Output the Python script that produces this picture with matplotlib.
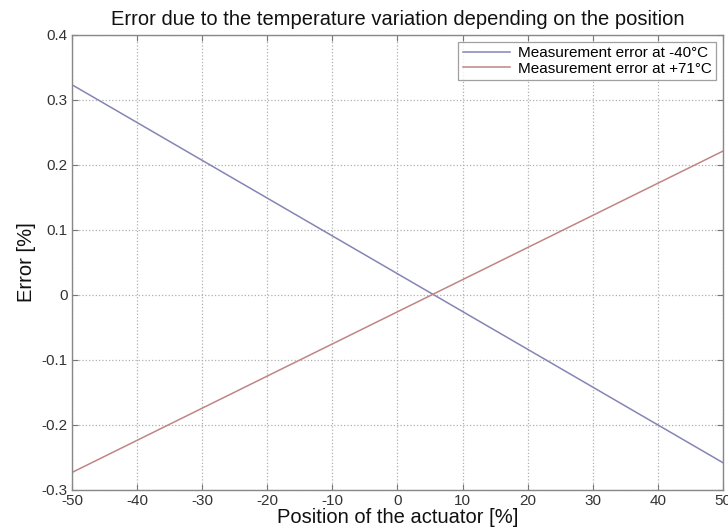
import matplotlib
matplotlib.use("Agg")
import matplotlib.pyplot as plt

plt.rcParams["font.family"] = ["Liberation Sans", "DejaVu Sans"]
plt.rcParams["axes.unicode_minus"] = False

# values
position = [-50, 50]
err_minus40 = [0.323, -0.258]
err_plus71 = [-0.273, 0.221]
xticks = list(range(-50, 51, 10))
yticks = [-0.3, -0.2, -0.1, 0, 0.1, 0.2, 0.3, 0.4]
ytick_labels = ["-0.3", "-0.2", "-0.1", "0", "0.1", "0.2", "0.3", "0.4"]

fig = plt.figure(figsize=(7.28, 5.30), dpi=100)
ax = fig.add_axes([0.099, 0.0755, 0.894, 0.859])

ax.plot(position, err_minus40, color="#8585b5", lw=1.1, label="Measurement error at -40°C")
ax.plot(position, err_plus71, color="#c08585", lw=1.1, label="Measurement error at +71°C")

ax.set_xlim(-50, 50)
ax.set_ylim(-0.3, 0.4)
ax.set_xticks(xticks)
ax.set_yticks(yticks)
ax.set_yticklabels(ytick_labels)
ax.grid(True, linestyle=":", color="#b0b0b0", lw=0.9)
ax.tick_params(direction="in", top=True, right=True, length=4, color="#777777",
               labelsize=11, labelcolor="#333333", pad=3)
for s in ax.spines.values():
    s.set_color("#888888")
    s.set_linewidth(1.0)

ax.set_title("Error due to the temperature variation depending on the position",
             fontsize=14.5, color="#111111", pad=7)
ax.set_xlabel("Position of the actuator [%]", fontsize=14.5, color="#111111", labelpad=0)
ax.set_ylabel("Error [%]", fontsize=14.5, color="#111111", labelpad=4)

leg = ax.legend(loc="upper right", fontsize=11, frameon=True, fancybox=False,
                edgecolor="#888888", borderpad=0.3, handlelength=3.1, handletextpad=0.5,
                labelspacing=0.1, borderaxespad=0.45)
leg.get_frame().set_linewidth(0.9)

fig.savefig("out.png", dpi=100)
